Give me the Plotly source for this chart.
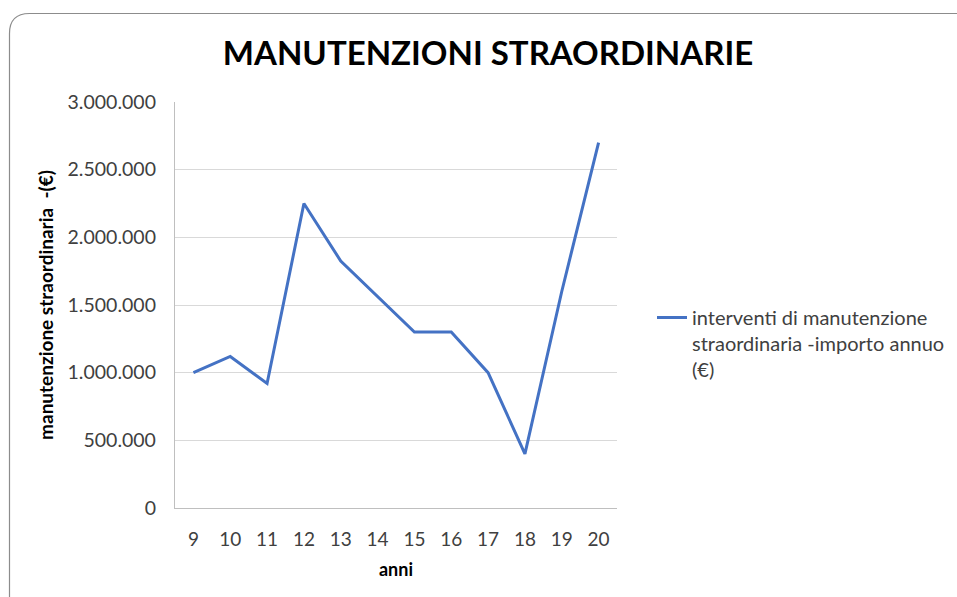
import plotly.graph_objects as go

# Annual extraordinary-maintenance spending (€), by year index
anni = ["9", "10", "11", "12", "13", "14", "15", "16", "17", "18", "19", "20"]
importo = [1000000, 1120000, 920000, 2250000, 1825000, 1560000,
           1300000, 1300000, 1000000, 400000, 1600000, 2700000]
y_ticks = [0, 500000, 1000000, 1500000, 2000000, 2500000, 3000000]

W, H = 957, 597
L, R, T, B = 175, 340, 102, 89
PW, PH = W - L - R, H - T - B

def px(x):
    return (x - L) / PW

def py(y):
    return (H - B - y) / PH

font_main = "Lato"
tick_col = "#404040"

fig = go.Figure()
fig.add_trace(go.Scatter(
    x=anni, y=importo, mode="lines",
    line=dict(color="#4472C4", width=3),
    name="interventi di manutenzione<br>straordinaria -importo annuo<br>(€)",
))

# rounded frame around the chart
l, t, r, b, rad = 9.5, 13.5, 990, 620, 20
frame = (f"M {px(l)},{py(t + rad)} Q {px(l)},{py(t)} {px(l + rad)},{py(t)} "
         f"L {px(r - rad)},{py(t)} Q {px(r)},{py(t)} {px(r)},{py(t + rad)} "
         f"L {px(r)},{py(b - rad)} Q {px(r)},{py(b)} {px(r - rad)},{py(b)} "
         f"L {px(l + rad)},{py(b)} Q {px(l)},{py(b)} {px(l)},{py(b - rad)} Z")

fig.update_layout(
    width=W, height=H,
    margin=dict(l=L, r=R, t=T, b=B, autoexpand=False),
    paper_bgcolor="white", plot_bgcolor="white",
    separators=",.",
    shapes=[dict(type="path", path=frame, xref="paper", yref="paper",
                 line=dict(color="#8c8c8c", width=1.2), layer="below")],
    title=dict(text="<b>MANUTENZIONI STRAORDINARIE</b>",
               font=dict(family=font_main, size=33, color="black"),
               x=488 / W, xref="container", xanchor="center",
               y=1 - 53 / H, yref="container", yanchor="middle"),
    showlegend=True,
    legend=dict(x=px(652), xanchor="left", y=py(298), yanchor="top",
                valign="top", font=dict(family=font_main, size=20, color=tick_col),
                bgcolor="rgba(0,0,0,0)", tracegroupgap=0),
    xaxis=dict(
        type="category", range=[-0.5, len(anni) - 0.5], showgrid=False,
        showline=True, linecolor="#bfbfbf", linewidth=1.3,
        ticks="outside", ticklen=14, tickcolor="rgba(0,0,0,0)",
        tickfont=dict(family=font_main, size=19, color=tick_col),
        title=dict(text="<b>anni</b>", standoff=14,
                   font=dict(family=font_main, size=18, color="black")),
    ),
    yaxis=dict(
        range=[0, 3000000], tickvals=y_ticks, tickformat=",d",
        showgrid=True, gridcolor="#d9d9d9", gridwidth=1,
        showline=True, linecolor="#bfbfbf", linewidth=1.3, zeroline=False,
        ticks="outside", ticklen=14, tickcolor="rgba(0,0,0,0)",
        tickfont=dict(family=font_main, size=19.5, color=tick_col),
        title=dict(text="<b>manutenzione straordinaria  -(€)</b>", standoff=8,
                   font=dict(family=font_main, size=19, color="black")),
    ),
)

fig.write_html("out.html")
